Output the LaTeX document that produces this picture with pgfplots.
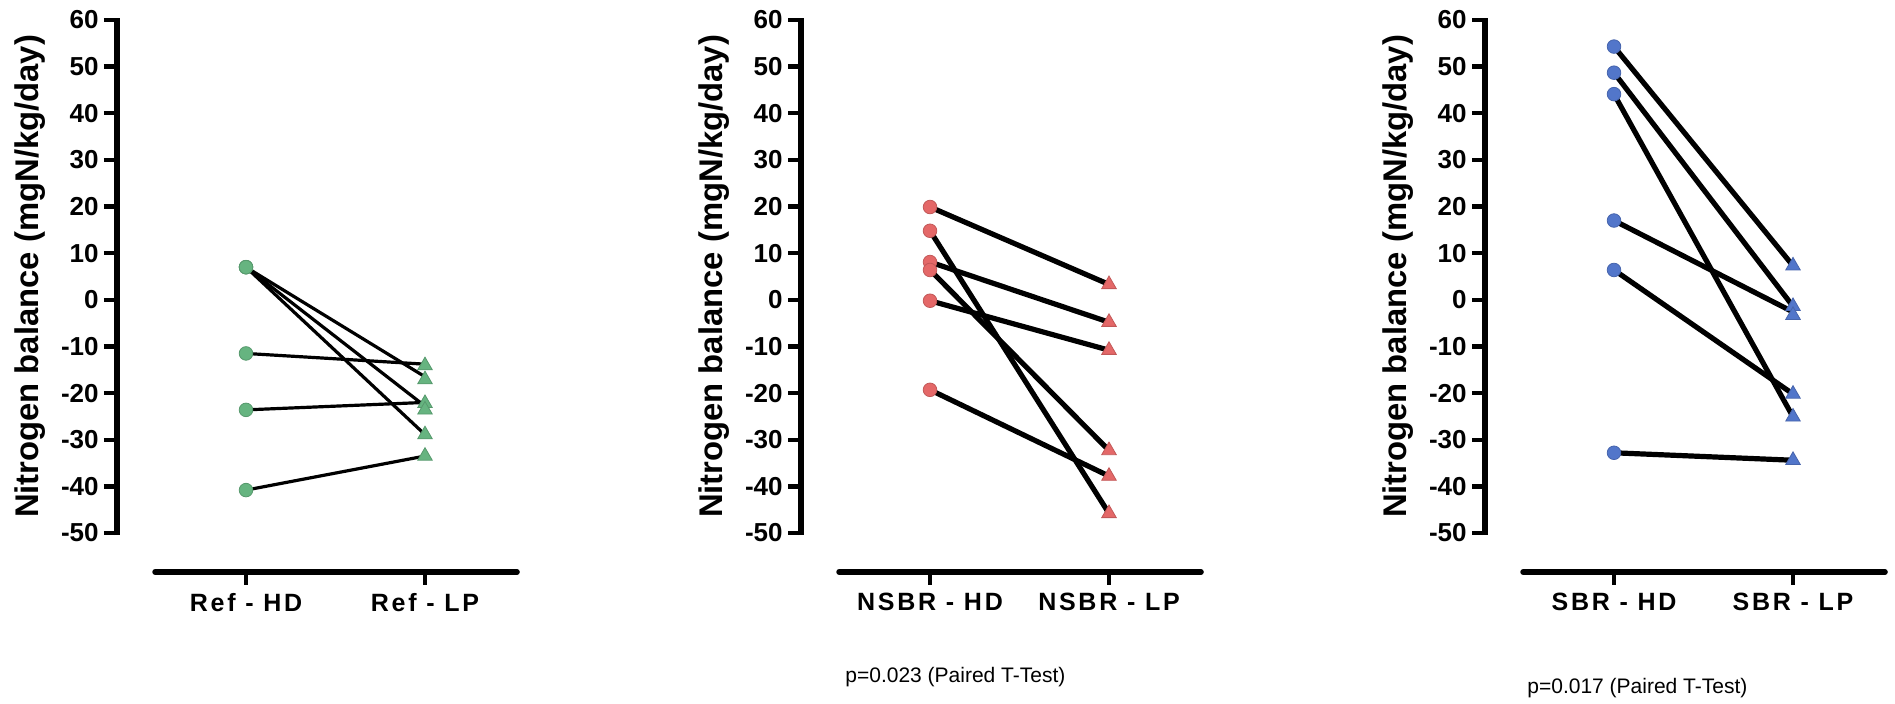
\documentclass[border=0pt]{standalone}
\usepackage{fontspec}
\setmainfont{Liberation Sans}
\newfontfamily\xlabfont[LetterSpace=11]{Liberation Sans}
\usepackage{pgfplots}
\pgfplotsset{compat=1.18}

\definecolor{cgreen}{RGB}{102,180,128}
\definecolor{cred}{RGB}{228,104,104}
\definecolor{cblue}{RGB}{82,118,202}

\pgfplotsset{
 panel/.style={
  scale only axis, width=200pt, height=276pt,
  xmin=-0.7207, xmax=1.514, ymin=-58.36, ymax=60,
  axis line style={draw=none},
  clip=false,
  tick align=outside,
  ytick pos=left, xtick pos=bottom,
  ytick={-50,-40,-30,-20,-10,0,10,20,30,40,50,60},
  yticklabels={-50,-40,-30,-20,-10,0,10,20,30,40,50,60},
  xtick={0,1},
  major tick length=6.5pt,
  tick style={black, line width=2.2pt},
  yticklabel style={font=\fontsize{13}{15}\selectfont\bfseries, inner sep=0pt, xshift=-2.5pt},
  xticklabel style={font=\fontsize{12.5}{14}\selectfont\xlabfont\bfseries, inner sep=0pt, yshift=-4pt},
  anchor=south west,
 },
 hdm/.style={only marks, mark=*, mark size=3.4pt, mark options={draw=#1!85!black, fill=#1, line width=0.4pt}},
 lpm/.style={only marks, mark=triangle*, mark size=4.2pt, mark options={draw=#1!85!black, fill=#1, line width=0.4pt}},
}
\newcommand{\spines}{%
  \draw[line width=2.7pt, shorten <=-1pt, shorten >=-1.1pt] (axis cs:-0.7207,-50) -- (axis cs:-0.7207,60);
  \draw[line width=2.8pt, line cap=round] (axis cs:-0.508,-58.36) -- (axis cs:1.514,-58.36);
  \node[rotate=90, font=\fontsize{16.4}{18}\selectfont\bfseries] at (axis cs:-1.207,5) {Nitrogen balance (mgN/kg/day)};
}

\begin{document}
\begin{tikzpicture}
\path[use as bounding box] (0,0) rectangle (947.5pt,352pt);

% Panel 1: Ref
\begin{axis}[panel, at={(58.5pt,66pt)}, xticklabels={Ref - HD, Ref - LP}]
\spines
\addplot[hdm=cgreen] coordinates {(0,7.0) (0,7.0) (0,7.0) (0,-11.5) (0,-23.6) (0,-40.8)};
\addplot[lpm=cgreen] coordinates {(1,-14.1) (1,-17.1) (1,-22.2) (1,-23.6) (1,-28.9) (1,-33.5)};
\addplot[black, line width=1.6pt] coordinates {(0,7.0) (1,-16.5)};
\addplot[black, line width=1.6pt] coordinates {(0,7.0) (1,-22.8)};
\addplot[black, line width=1.6pt] coordinates {(0,7.0) (1,-28.9)};
\addplot[black, line width=1.6pt] coordinates {(0,-11.5) (1,-13.8)};
\addplot[black, line width=1.6pt] coordinates {(0,-23.6) (1,-22.0)};
\addplot[black, line width=1.6pt] coordinates {(0,-40.8) (1,-33.5)};
\end{axis}

% Panel 2: NSBR
\begin{axis}[panel, at={(400.5pt,66pt)}, xticklabels={NSBR - HD, NSBR - LP}]
\spines
\addplot[hdm=cred] coordinates {(0,19.9) (0,14.8) (0,8.1) (0,6.4) (0,-0.2) (0,-19.3)};
\addplot[lpm=cred] coordinates {(1,3.3) (1,-4.8) (1,-10.8) (1,-32.3) (1,-37.8) (1,-45.8)};
\addplot[black, line width=2.6pt] coordinates {(0,19.9) (1,3.3)};
\addplot[black, line width=2.6pt] coordinates {(0,14.8) (1,-45.8)};
\addplot[black, line width=2.6pt] coordinates {(0,8.1) (1,-4.8)};
\addplot[black, line width=2.6pt] coordinates {(0,6.4) (1,-32.3)};
\addplot[black, line width=2.6pt] coordinates {(0,-0.2) (1,-10.8)};
\addplot[black, line width=2.6pt] coordinates {(0,-19.3) (1,-37.8)};
\node[anchor=west, inner sep=0pt, font=\fontsize{10.5}{12}\selectfont] at (axis cs:-0.475,-80.9) {p=0.023 (Paired T-Test)};
\end{axis}

% Panel 3: SBR
\begin{axis}[panel, at={(742.5pt,66pt)}, xticklabels={SBR - HD, SBR - LP}]
\spines
\addplot[hdm=cblue] coordinates {(0,54.3) (0,48.7) (0,44.1) (0,17.0) (0,6.4) (0,-32.8)};
\addplot[lpm=cblue] coordinates {(1,7.3) (1,-1.4) (1,-3.3) (1,-20.2) (1,-25.1) (1,-34.4)};
\addplot[black, line width=2.6pt] coordinates {(0,54.3) (1,7.3)};
\addplot[black, line width=2.6pt] coordinates {(0,48.7) (1,-1.4)};
\addplot[black, line width=2.6pt] coordinates {(0,44.1) (1,-25.1)};
\addplot[black, line width=2.6pt] coordinates {(0,17.0) (1,-2.6)};
\addplot[black, line width=2.6pt] coordinates {(0,6.4) (1,-20.2)};
\addplot[black, line width=2.6pt] coordinates {(0,-32.8) (1,-34.4)};
\node[anchor=west, inner sep=0pt, font=\fontsize{10.5}{12}\selectfont] at (axis cs:-0.486,-83.2) {p=0.017 (Paired T-Test)};
\end{axis}
\end{tikzpicture}
\end{document}
